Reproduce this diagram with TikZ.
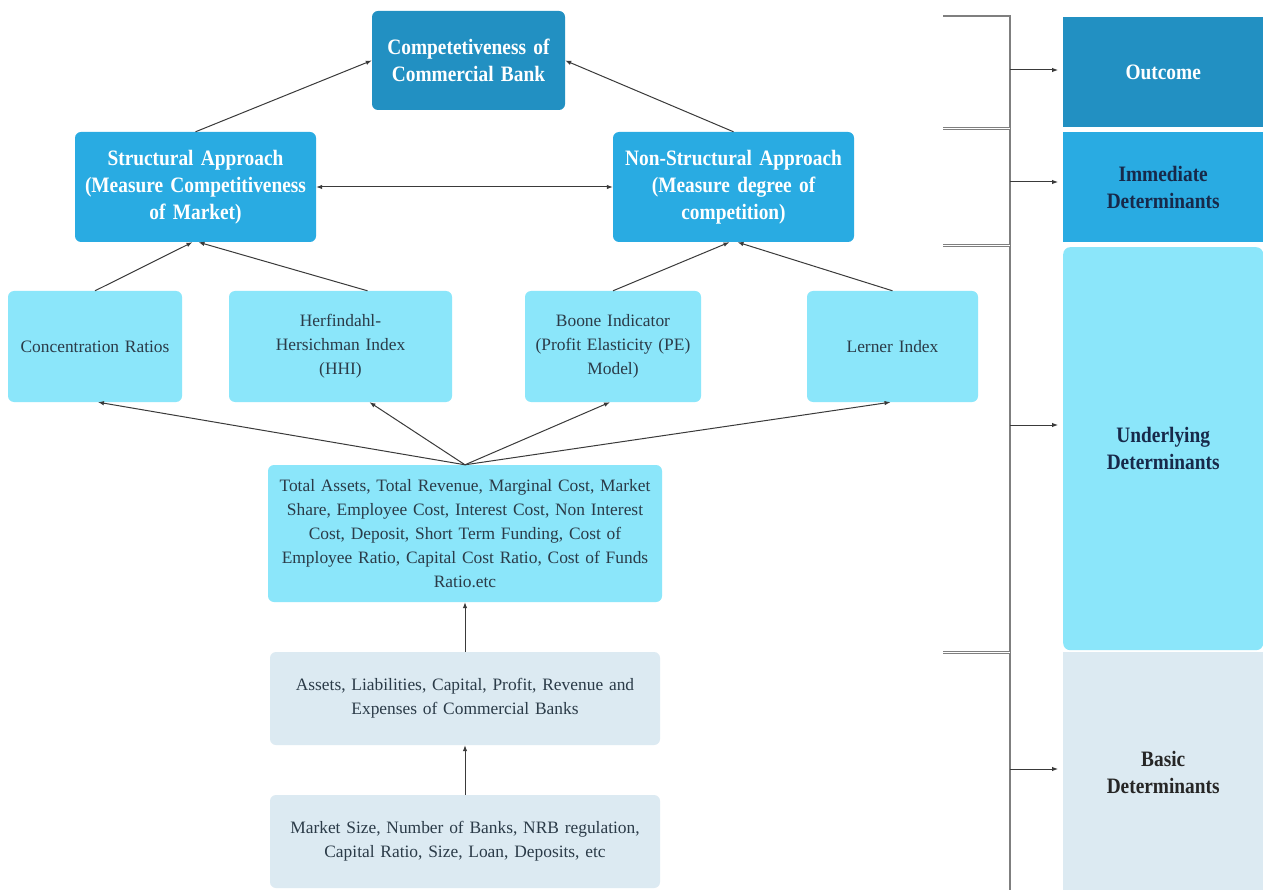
\documentclass[tikz,border=0pt]{standalone}
\usepackage{fontspec}
\setmainfont{Liberation Serif}
\newfontfamily\condfont[FakeStretch=0.88]{Liberation Serif}
\usetikzlibrary{arrows.meta}
\definecolor{cdark}{HTML}{2290C2}
\definecolor{cmid}{HTML}{29ABE2}
\definecolor{clight}{HTML}{8BE6FA}
\definecolor{cpale}{HTML}{DCEAF2}
\definecolor{ctext}{HTML}{2B3B48}
\definecolor{cnavy}{HTML}{17294A}
\definecolor{cline}{HTML}{3A3A3A}
\definecolor{cbr}{HTML}{7F7F7F}
\begin{document}
\begin{tikzpicture}[x=1pt,y=-1pt,
  nb/.style={rounded corners=6pt, inner xsep=6pt, inner ysep=0pt, align=center},
  boldtxt/.style={font=\condfont\bfseries\fontsize{22}{27}\selectfont},
  regtxt/.style={font=\fontsize{17.4}{24}\selectfont},
  darkbox/.style={nb, fill=cdark, text=white, boldtxt},
  midbox/.style={nb, fill=cmid, text=white, boldtxt},
  lightbox/.style={nb, fill=clight, text=ctext, regtxt},
  palebox/.style={nb, fill=cpale, text=ctext, regtxt},
  arr/.style={draw=cline, line width=1pt, -{Latex[length=6pt,width=4.5pt]}},
  arrboth/.style={draw=cline, line width=1pt, {Latex[length=6pt,width=4.5pt]}-{Latex[length=6pt,width=4.5pt]}},
  brline/.style={draw=cbr, line width=1.2pt},
  dbl/.style={draw=cbr, line width=0.7pt, double=white, double distance=1.6pt},
  sidebox/.style={inner sep=0pt, align=center, boldtxt, minimum width=200pt, anchor=north west}
]
\useasboundingbox (0,0) rectangle (1263,890);
\fill[white] (0,0) rectangle (1263,890);

% main boxes
\node[darkbox, minimum width=193pt, minimum height=99pt, text width=181pt] (comp) at (468.5,60.5) {Competetiveness of\\Commercial Bank};
\node[midbox, minimum width=241pt, minimum height=110pt, text width=229pt] (struct) at (195.5,187) {Structural Approach\\(Measure Competitiveness\\of Market)};
\node[midbox, minimum width=241pt, minimum height=110pt, text width=229pt] (nonstr) at (733.5,187) {Non-Structural Approach\\(Measure degree of\\competition)};

\node[lightbox, minimum width=174pt, minimum height=111pt, text width=162pt] (conc) at (95,346.5) {Concentration Ratios};
\node[lightbox, minimum width=223pt, minimum height=111pt, text width=211pt] (hhi) at (340.5,346.5) {Herfindahl-\\Hersichman Index\\(HHI)};
\node[lightbox, minimum width=172pt, minimum height=111pt, text width=164pt] (boone) at (613,346.5) {Boone Indicator\\(Profit Elasticity (PE)\\Model)};
\node[lightbox, minimum width=171pt, minimum height=111pt, text width=159pt] (lerner) at (892.5,346.5) {Lerner Index};

\node[lightbox, minimum width=390pt, minimum height=137pt, text width=382pt] (total) at (465,533.5) {Total Assets, Total Revenue, Marginal Cost, Market\\Share, Employee Cost, Interest Cost, Non Interest\\Cost, Deposit, Short Term Funding, Cost of\\Employee Ratio, Capital Cost Ratio, Cost of Funds\\Ratio.etc};
\node[palebox, minimum width=390pt, minimum height=93pt, text width=378pt] (assets) at (465,698.5) {Assets, Liabilities, Capital, Profit, Revenue and\\Expenses of Commercial Banks};
\node[palebox, minimum width=390pt, minimum height=93pt, text width=378pt] (market) at (465,841.5) {Market Size, Number of Banks, NRB regulation,\\Capital Ratio, Size, Loan, Deposits, etc};

% right-side boxes
\node[sidebox, fill=cdark, text=white, minimum height=110pt] (outc) at (1063,17) {Outcome};
\node[sidebox, fill=cmid, text=cnavy, minimum height=110pt] (immd) at (1063,132) {Immediate\\Determinants};
\node[sidebox, fill=cpale, text=black!85, minimum height=240pt] (basic) at (1063,652) {Basic\\Determinants};
\node[sidebox, fill=clight, text=cnavy, minimum height=403pt, rounded corners=7pt] (undl) at (1063,247) {Underlying\\Determinants};

% connectors
\draw[arr] (struct.north) -- (comp.west);
\draw[arr] (nonstr.north) -- (comp.east);
\draw[arrboth] (struct.east) -- (nonstr.west);
\draw[arr] (conc.north) -- ([xshift=-3pt]struct.south);
\draw[arr] ([xshift=27pt]hhi.north) -- ([xshift=3pt]struct.south);
\draw[arr] (boone.north) -- ([xshift=-4pt]nonstr.south);
\draw[arr] (lerner.north) -- ([xshift=4pt]nonstr.south);
\draw[arr] (total.north) -- ([xshift=3pt]conc.south);
\draw[arr] (total.north) -- ([xshift=29pt]hhi.south);
\draw[arr] (total.north) -- ([xshift=-3pt]boone.south);
\draw[arr] (total.north) -- ([xshift=-2pt]lerner.south);
\draw[arr] (assets.north) -- (total.south);
\draw[arr] (market.north) -- (assets.south);

% bracket
\coordinate (t0) at (943,16);
\coordinate (t1) at (1010,16);
\coordinate (vb) at (1010,890);
\coordinate (d1a) at (943,128.5);
\coordinate (d1b) at (1010,128.5);
\coordinate (d2a) at (943,245.5);
\coordinate (d2b) at (1010,245.5);
\coordinate (d3a) at (943,652.5);
\coordinate (d3b) at (1010,652.5);
\draw[brline] (t0) -- (t1) -- (vb);
\draw[dbl] (d1a) -- (d1b);
\draw[dbl] (d2a) -- (d2b);
\draw[dbl] (d3a) -- (d3b);
\coordinate (b1) at (1010,70);
\coordinate (b2) at (1010,182);
\coordinate (b3) at (1010,425);
\coordinate (b4) at (1010,769);
\draw[arr, shorten >=5pt] (b1) -- (b1 -| outc.west);
\draw[arr, shorten >=5pt] (b2) -- (b2 -| immd.west);
\draw[arr, shorten >=5pt] (b3) -- (b3 -| undl.west);
\draw[arr, shorten >=5pt] (b4) -- (b4 -| basic.west);
\end{tikzpicture}
\end{document}
